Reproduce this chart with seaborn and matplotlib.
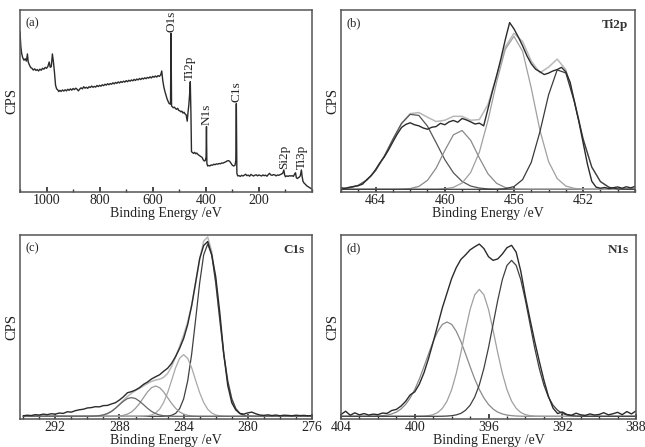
import numpy as np
import matplotlib
matplotlib.use("Agg")
import matplotlib.pyplot as plt
from matplotlib.ticker import MultipleLocator
import seaborn as sns

# ----------------------------------------------
# Data (counts in arbitrary units, 0-100)
# ----------------------------------------------
# (a) survey spectrum: (binding energy, counts)
SURVEY = [
    (1100, 88.0), (1097, 80.0), (1094, 76.0), (1090, 73.5), (1085, 72.0), (1080, 72.8),
    (1076, 71.5), (1072, 75.5), (1069, 71.0), (1065, 69.5), (1060, 68.0), (1055, 67.5),
    (1050, 66.5), (1045, 67.2), (1040, 66.3), (1035, 66.8), (1030, 66.0), (1025, 67.0),
    (1020, 66.4), (1015, 67.5), (1010, 67.0), (1005, 68.0), (1000, 67.5), (995, 68.5),
    (990, 71.0), (986, 68.0), (982, 68.5), (978, 75.5), (974, 71.0), (970, 65.0),
    (966, 58.0), (962, 56.0), (958, 55.5), (954, 54.5), (950, 55.2), (945, 54.6),
    (940, 55.4), (935, 54.8), (930, 55.5), (925, 54.9), (920, 55.8), (915, 55.2),
    (910, 56.0), (905, 55.3), (900, 56.2), (895, 55.6), (890, 56.4), (885, 55.8),
    (880, 54.9), (875, 55.9), (870, 56.6), (865, 56.0), (860, 57.2), (855, 56.4),
    (850, 56.9), (845, 56.3), (840, 57.2), (835, 56.8), (830, 57.6), (825, 56.9),
    (820, 57.4), (815, 57.0), (810, 57.9), (805, 57.3), (800, 58.0), (795, 57.5),
    (790, 58.3), (785, 57.8), (780, 58.6), (775, 58.1), (770, 58.9), (765, 58.3),
    (760, 59.0), (755, 58.6), (750, 59.4), (745, 58.8), (740, 59.6), (735, 59.1),
    (730, 59.9), (725, 59.3), (720, 60.1), (715, 59.6), (710, 60.3), (705, 59.8),
    (700, 60.6), (695, 60.0), (690, 60.8), (685, 60.3), (680, 61.0), (675, 60.5),
    (670, 61.3), (665, 60.7), (660, 61.5), (655, 61.0), (650, 61.8), (645, 61.2),
    (640, 62.0), (635, 61.5), (630, 62.2), (625, 61.7), (620, 62.4), (615, 62.0),
    (610, 62.7), (605, 62.1), (600, 63.0), (595, 62.5), (590, 63.2), (585, 62.6),
    (580, 63.4), (575, 63.0), (570, 63.8), (566, 66.0), (562, 60.5), (558, 57.0),
    (554, 54.5), (550, 52.5), (546, 50.5), (542, 49.0), (538, 47.8), (533, 47.5),
    (531, 87.0), (529, 46.5), (526, 46.0), (522, 45.5), (518, 45.8), (514, 45.0),
    (510, 44.6), (506, 45.2), (502, 44.0), (498, 43.8), (494, 43.2), (490, 43.6),
    (486, 42.5), (482, 43.0), (478, 42.0), (474, 41.5), (470, 38.0), (467, 43.0),
    (464, 47.0), (461, 53.0), (458.5, 60.0), (456, 42.0), (454, 21.0), (450, 20.5),
    (446, 20.0), (442, 20.6), (438, 19.8), (434, 20.2), (430, 19.5), (426, 19.0),
    (422, 18.6), (418, 18.2), (414, 17.8), (410, 16.5), (406, 15.8), (402, 16.0),
    (399, 18.0), (397.5, 35.0), (396, 14.5), (393, 13.0), (390, 13.3), (385, 13.0),
    (380, 13.6), (375, 13.4), (370, 14.0), (365, 13.7), (360, 14.2), (355, 14.0),
    (350, 14.4), (345, 14.2), (340, 14.7), (335, 14.6), (330, 15.0), (325, 15.3),
    (320, 15.8), (315, 16.0), (310, 15.6), (305, 14.5), (300, 13.4), (295, 13.0),
    (290, 13.4), (287, 16.0), (285, 47.8), (283, 9.0), (280, 7.5), (275, 7.6),
    (270, 7.2), (265, 7.8), (260, 7.4), (255, 7.9), (250, 8.4), (245, 7.6),
    (240, 7.9), (235, 7.3), (230, 8.3), (225, 7.8), (220, 7.4), (215, 7.9),
    (210, 8.1), (205, 7.5), (200, 8.0), (195, 7.7), (190, 7.4), (185, 8.0),
    (180, 7.6), (175, 7.9), (170, 7.3), (165, 8.1), (160, 8.9), (155, 8.0),
    (150, 7.8), (145, 8.2), (140, 8.0), (135, 7.5), (130, 8.0), (125, 7.8),
    (120, 8.2), (115, 8.5), (110, 9.0), (106, 10.8), (103, 8.0), (100, 7.0),
    (95, 7.5), (90, 7.2), (85, 7.6), (80, 7.4), (75, 7.6), (70, 7.2),
    (65, 8.6), (62, 9.2), (59, 6.5), (55, 6.0), (52, 6.4), (48, 6.8),
    (44, 7.5), (40, 10.8), (37, 7.0), (34, 4.5), (30, 3.5), (25, 2.8),
    (20, 2.0), (15, 1.5), (10, 1.0), (5, 0.6), (2, 0.2),
]
SURVEY_LABELS = ["O1s", "Ti2p", "N1s", "C1s", "Si2p", "Ti3p"]
SURVEY_LABEL_EV = [531, 459, 397.5, 285, 106, 40]

# (b) Ti2p: measured on 0.25 eV grid 466 -> 449, fit components on 0.5 eV grid
TI_MEAS = [
    0.8, 0.5, 1.2, 1.6, 2.0, 2.9, 5.5, 7.6, 11.0, 14.8,
    18.0, 22.0, 26.5, 30.8, 34.5, 36.2, 37.1, 36.0, 35.4, 34.2,
    33.5, 34.6, 35.0, 36.8, 36.0, 37.6, 38.4, 37.4, 39.5, 38.7,
    37.6, 36.4, 36.9, 35.4, 45.0, 54.5, 63.4, 73.0, 83.5, 93.0,
    89.5, 85.0, 80.0, 74.5, 70.0, 67.0, 65.6, 64.0, 64.8, 66.0,
    66.8, 68.0, 65.5, 59.7, 48.7, 38.0, 26.0, 14.0, 4.5, 1.2,
    0.6, 1.0, 0.4, 0.9, 1.3, 0.6, 1.4, 0.8, 1.6,
]
TI_PEAK_1 = [0.3, 0.8, 2.2, 5.2, 10.5, 18.4, 27.9, 36.7, 41.8, 41.2, 35.2, 26.0,
             16.6, 9.2, 4.4, 1.8, 0.7, 0.2] + [0.0] * 17
TI_PEAK_2 = [0.0] * 7 + [0.1, 0.4, 1.6, 5.0, 11.8, 21.6, 30.4, 32.8, 27.3, 17.5,
                         8.6, 3.3, 1.0, 0.2, 0.05] + [0.0] * 13
TI_PEAK_3 = [0.0] * 12 + [0.3, 1.1, 3.5, 9.4, 20.7, 38.5, 59.9, 78.1, 85.3, 77.0,
                          56.5, 33.0, 15.5, 6.0, 1.8, 0.5, 0.1] + [0.0] * 6
TI_PEAK_4 = [0.0] * 17 + [0.0, 0.05, 0.3, 1.5, 5.4, 15.0, 32.0, 52.6, 66.6, 64.9,
                          48.6, 28.0, 12.4, 4.3, 1.1, 0.2, 0.03, 0.0]

# (c) C1s: 0.25 eV grid 294 -> 276
C_MEAS = [
    0.3, 0.6, 0.4, 0.9, 0.7, 1.2, 0.9, 1.4, 1.2, 1.8,
    1.6, 2.5, 2.3, 3.1, 3.6, 3.9, 4.6, 4.8, 5.3, 5.2,
    5.9, 6.0, 6.8, 7.5, 9.0, 10.8, 13.0, 13.6, 14.5, 15.8,
    17.6, 18.9, 20.6, 21.8, 22.9, 24.8, 26.5, 29.2, 33.0, 37.5,
    42.9, 50.5, 61.0, 74.0, 87.0, 94.2, 96.4, 89.0, 77.0, 57.5,
    34.5, 17.0, 7.5, 3.5, 1.6, 1.2, 1.9, 2.3, 1.4, 0.7,
    0.5, 0.8, 0.4, 0.7, 0.3, 0.6, 0.5, 0.3, 0.6, 0.4,
    0.5, 0.3, 0.4,
]
C_PEAK_1 = [0.0] * 35 + [0.04, 0.17, 0.55, 1.6, 4.2, 9.6, 19.4, 34.3, 53.6, 73.6, 89.1,
                         95.0, 89.1, 73.6, 53.6, 34.3, 19.4, 9.6, 4.2, 1.6, 0.55,
                         0.17, 0.04] + [0.0] * 15
C_PEAK_2 = [0.0] * 30 + [0.09, 0.26, 0.73, 1.8, 3.9, 7.6, 13.0, 19.8, 26.8, 32.0, 34.0,
                         32.0, 26.8, 19.8, 13.0, 7.6, 3.9, 1.8, 0.73, 0.26,
                         0.09] + [0.0] * 22
C_PEAK_3 = [0.0] * 23 + [0.08, 0.22, 0.54, 1.2, 2.4, 4.4, 7.1, 10.3, 13.5, 15.8, 16.7,
                         15.8, 13.5, 10.3, 7.1, 4.4, 2.4, 1.2, 0.54, 0.22,
                         0.08] + [0.0] * 29
C_PEAK_4 = [0.0] * 17 + [0.05, 0.13, 0.34, 0.75, 1.5, 2.7, 4.4, 6.4, 8.3, 9.8, 10.3,
                         9.8, 8.3, 6.4, 4.4, 2.7, 1.5, 0.75, 0.34, 0.13,
                         0.05] + [0.0] * 35

# (d) N1s: 0.25 eV grid 404 -> 388
N_MEAS = [
    1.0, 2.8, 0.6, 1.9, 0.8, 1.5, 0.7, 1.2, 0.9, 1.8,
    1.6, 3.2, 3.8, 5.6, 8.2, 11.8, 13.5, 17.8, 24.0, 32.0,
    41.0, 50.5, 60.0, 68.0, 76.0, 82.0, 86.5, 89.0, 91.8, 93.5,
    95.0, 92.5, 88.0, 86.0, 86.8, 89.5, 93.0, 94.3, 90.5, 80.0,
    66.0, 53.5, 41.5, 30.5, 20.0, 11.0, 4.5, 1.5, 2.4, 1.0,
    0.6, 1.7, 0.8, 0.5, 1.3, 0.7, 1.0, 2.0, 0.8, 1.4,
    2.2, 0.9, 2.6, 1.3, 3.0,
]
N_PEAK_1 = [0.0] * 7 + [0.07, 0.16, 0.34, 0.68, 1.3, 2.3, 4.0, 6.5, 10.1, 14.8, 20.6,
                        27.4, 34.5, 41.3, 46.9, 50.7, 52.0, 50.7, 46.9, 41.3, 34.5,
                        27.4, 20.6, 14.8, 10.1, 6.5, 4.0, 2.3, 1.3, 0.68, 0.34,
                        0.16, 0.07] + [0.0] * 25
N_PEAK_2 = [0.0] * 17 + [0.05, 0.14, 0.37, 0.92, 2.1, 4.4, 8.4, 14.7, 23.7, 35.0, 47.4,
                         58.9, 67.0, 70.0, 67.0, 58.9, 47.4, 35.0, 23.7, 14.7, 8.4,
                         4.4, 2.1, 0.92, 0.37, 0.14, 0.05] + [0.0] * 21
N_PEAK_3 = [0.0] * 22 + [0.05, 0.14, 0.34, 0.77, 1.6, 3.3, 6.1, 10.6, 17.3, 26.5, 37.9,
                         50.9, 64.0, 75.4, 83.2, 86.0, 83.2, 75.4, 64.0, 50.9, 37.9,
                         26.5, 17.3, 10.6, 6.1, 3.3, 1.6, 0.77, 0.34, 0.14,
                         0.05] + [0.0] * 12

# ----------------------------------------------
# Style
# ----------------------------------------------
sns.set_theme(style="white")
plt.rcParams.update({
    "font.family": ["Liberation Serif", "DejaVu Serif"],
    "axes.edgecolor": "#555555",
    "axes.linewidth": 1.1,
    "xtick.direction": "in",
    "xtick.color": "#333333",
    "xtick.labelcolor": "#222222",
    "xtick.major.size": 3.5,
    "xtick.minor.size": 2,
    "xtick.major.pad": 1.5,
    "xtick.labelsize": 10,
})

MEAS_COLOR = "#2b2b2b"
FIT_COLOR = "#b8b8b8"
LW = 1.0


def energy_grid(start, step, n):
    return start - step * np.arange(n)


def draw_curve(ax, x, y, color, lw=LW):
    sns.lineplot(x=x, y=y, ax=ax, color=color, lw=lw, legend=False)


def style_panel(ax, letter, xlim, majors, minor, title=None):
    ax.set_xlim(*xlim)
    ax.set_ylim(-1.5, 100)
    ax.set_xticks(majors)
    ax.set_xticklabels([str(m) for m in majors])
    ax.xaxis.set_minor_locator(MultipleLocator(minor))
    ax.tick_params(axis="x", which="both", bottom=True, top=False)
    ax.set_yticks([])
    ax.set_xlabel("Binding Energy /eV", fontsize=10, labelpad=0, color="#222222")
    ax.set_ylabel("CPS", fontsize=10.5, labelpad=1, color="#222222")
    ax.text(0.02, 0.96, letter, transform=ax.transAxes, ha="left", va="top",
            fontsize=9, color="#222222")
    if title:
        ax.text(0.975, 0.95, title, transform=ax.transAxes, ha="right", va="top",
                fontsize=9.5, fontweight="bold", color="#333333")
    for s in ax.spines.values():
        s.set_visible(True)


fig = plt.figure(figsize=(6.45, 4.47), dpi=100)
fig.patch.set_facecolor("white")
ax_a = fig.add_axes([0.031, 0.5705, 0.4527, 0.4071])
ax_b = fig.add_axes([0.5287, 0.5705, 0.4558, 0.4071])
ax_c = fig.add_axes([0.031, 0.0626, 0.4527, 0.4117])
ax_d = fig.add_axes([0.5287, 0.0626, 0.4574, 0.4117])

# (a) survey
survey_ev = np.array([p[0] for p in SURVEY])
survey_cps = np.array([p[1] for p in SURVEY])
draw_curve(ax_a, survey_ev, survey_cps, MEAS_COLOR)
style_panel(ax_a, "(a)", (1100, 0), [1000, 800, 600, 400, 200], 100)
for lab, ev in zip(SURVEY_LABELS, SURVEY_LABEL_EV):
    near = np.abs(survey_ev - ev) <= 3
    top = survey_cps[near].max()
    ax_a.text(ev, top + 0.8, lab, rotation=90, ha="center", va="bottom",
              fontsize=9.5, color="#222222")

# (b) Ti2p
x_b_meas = energy_grid(466, 0.25, len(TI_MEAS))
x_b_fit = energy_grid(466, 0.5, len(TI_PEAK_1))
ti_env = np.sum([TI_PEAK_1, TI_PEAK_2, TI_PEAK_3, TI_PEAK_4], axis=0)
draw_curve(ax_b, x_b_fit, ti_env, FIT_COLOR, lw=1.1)
for comp, col in zip([TI_PEAK_1, TI_PEAK_2, TI_PEAK_3, TI_PEAK_4],
                     ["#555555", "#8a8a8a", "#a0a0a0", "#3a3a3a"]):
    draw_curve(ax_b, x_b_fit, comp, col, lw=0.9)
draw_curve(ax_b, x_b_meas, TI_MEAS, MEAS_COLOR)
style_panel(ax_b, "(b)", (466, 449), [464, 460, 456, 452], 1, "Ti2p")

# (c) C1s
x_c = energy_grid(294, 0.25, len(C_MEAS))
c_env = np.sum([C_PEAK_1, C_PEAK_2, C_PEAK_3, C_PEAK_4], axis=0)
draw_curve(ax_c, x_c, c_env, FIT_COLOR, lw=1.1)
for comp, col in zip([C_PEAK_1, C_PEAK_2, C_PEAK_3, C_PEAK_4],
                     ["#404040", "#a8a8a8", "#9a9a9a", "#666666"]):
    draw_curve(ax_c, x_c, comp, col, lw=0.9)
draw_curve(ax_c, x_c, C_MEAS, MEAS_COLOR)
style_panel(ax_c, "(c)", (294.2, 276), [292, 288, 284, 280, 276], 1, "C1s")

# (d) N1s (fit envelope lies under the measured trace)
x_d = energy_grid(404, 0.25, len(N_MEAS))
for comp, col in zip([N_PEAK_1, N_PEAK_2, N_PEAK_3],
                     ["#8a8a8a", "#a0a0a0", "#404040"]):
    draw_curve(ax_d, x_d, comp, col, lw=0.9)
draw_curve(ax_d, x_d, N_MEAS, MEAS_COLOR)
style_panel(ax_d, "(d)", (404, 388), [404, 400, 396, 392, 388], 1, "N1s")

fig.savefig("out.png", dpi=100, facecolor="white")
